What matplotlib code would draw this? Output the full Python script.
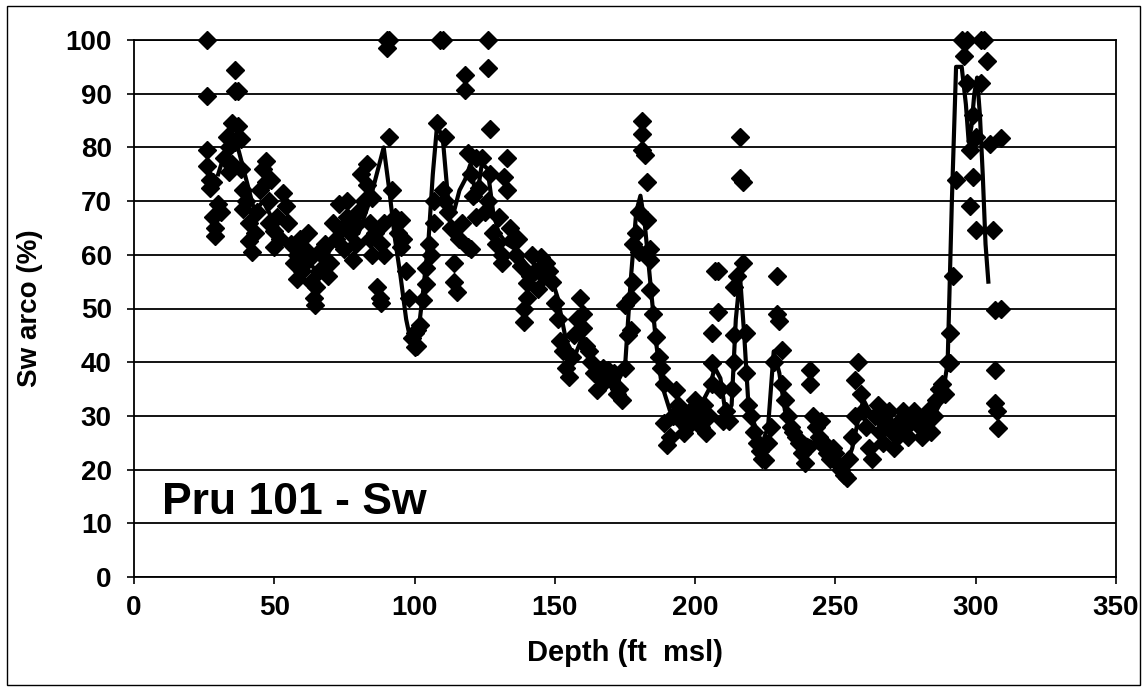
import matplotlib
matplotlib.use("Agg")
import matplotlib.pyplot as plt
from matplotlib.patches import Rectangle

# Sw arco vs depth (depth in ft msl, Sw in %)
depth_a = [26, 26, 26, 26, 27, 27, 28, 28, 29, 29, 30, 31, 32, 33, 34, 34, 35, 35, 36, 36, 36,
           37, 37, 38, 38, 39, 39, 40, 41, 41, 42, 43, 44, 45, 46, 47, 47, 48, 48, 49, 50, 50, 51, 52]
sw_a = [100, 89.5, 79.5, 76.5, 74, 72.5, 73.5, 67, 65, 63.5, 69.5, 68, 78, 82, 80, 75.5, 84.5, 77, 94.5, 90.5, 81,
        90.5, 84, 81.5, 76, 72, 68.5, 70, 66, 62.5, 60.5, 64, 68, 72, 76, 77.5, 73.5, 70, 66, 74, 64.5, 61.5, 67, 63]

depth_b = [53, 54, 55, 56, 57, 58, 59, 60, 61, 62, 63, 64, 64.5, 65, 66, 67, 68, 69, 70, 71, 72,
           73, 74, 75, 76, 77, 78, 79, 80, 81, 82, 83, 83, 84, 84, 85, 85, 76, 79, 62, 58, 66]
sw_b = [71.5, 69, 66, 62, 58.5, 60, 63, 57, 61, 59, 55, 52, 50.7, 54, 57, 60, 62, 56, 58.5, 66, 63,
        69.5, 65, 61, 67, 64, 59, 62, 68, 75, 70, 77, 73, 66, 63, 70.5, 60, 70, 65.5, 64, 55.5, 60.5]

depth_c = [86, 86.5, 87.5, 88, 88, 89, 89, 90, 90, 91, 91, 92, 93, 94, 95, 95, 96, 97, 98, 99,
           100, 100, 101, 101, 102, 103, 104, 104, 105, 106, 107, 107, 108, 109, 110, 111, 110, 111,
           112, 113, 114, 114, 115, 116, 117, 118, 118, 119, 119, 120, 120, 121, 122, 122, 123, 124,
           125, 126, 126, 126, 127, 127, 128, 129, 130]
sw_c = [64, 54, 52, 51, 62, 60, 66, 100, 98.5, 100, 82, 72, 67, 64, 66.5, 61.5, 63, 57, 52, 44.5,
        42.8, 45.5, 43, 46, 47, 51.6, 54.6, 57.6, 62, 60, 70, 66, 84.5, 100, 100, 82, 72, 70,
        68, 65, 58.5, 55, 53, 63, 66, 93.5, 90.7, 79, 61.5, 61, 75, 71, 78, 67, 72.5, 78,
        68, 100, 94.8, 70, 83.4, 75, 64, 62, 67]

depth_d = [131, 131, 132, 133, 133, 134, 135, 136, 137, 138, 139, 139, 140, 140, 141, 142, 143, 144,
           145, 146, 147, 148, 149, 150, 151, 152, 153, 154, 155, 156, 157, 158, 159, 160, 160, 161,
           162, 163, 164, 165, 166, 167, 168, 169, 170, 171, 172, 173, 174, 175]
sw_d = [60, 58.5, 74.5, 78, 72, 65, 63, 60, 63, 58, 50, 47.5, 54.7, 52, 56, 60, 57, 53.6,
        59.6, 56, 58.5, 57, 55, 51, 48, 44, 42, 39, 37.3, 41, 45, 48, 52, 46.4, 49, 43,
        42, 40, 38, 34.8, 37, 39, 36.5, 38.5, 36.7, 38, 34, 35, 33, 39]

depth_e = [175, 176, 177, 177, 178, 178, 179, 180, 180, 181, 181, 181, 182, 183, 183, 184, 184, 184,
           185, 186, 187, 188, 189, 189, 190, 191, 192, 193, 194, 195, 196, 197, 198, 199, 200, 201,
           202, 203, 204, 205, 206, 206, 206, 207, 208, 208, 209, 210, 211, 212, 213, 214, 214, 214,
           215, 216, 216, 217, 217, 218, 218, 219, 220, 221, 222, 223, 224, 225]
sw_e = [50.6, 45, 52, 46, 55, 62, 64, 60.6, 68, 85, 82.5, 79.5, 78.5, 73.6, 66.5, 61, 59, 53.4,
        49, 44.7, 41, 39, 36, 28.7, 24.5, 26, 30, 34.8, 32, 29, 26.8, 28, 31, 29, 33, 30,
        28, 32, 26.8, 30, 36, 39.8, 45.4, 57, 49.4, 57, 35, 29, 31, 29, 35, 40, 45, 54,
        56, 82, 74.3, 73.5, 58.4, 45.4, 38, 32, 30, 27, 25, 23.5, 22, 21.8]

depth_f = [226, 227, 228, 229, 229, 230, 231, 231, 232, 233, 234, 235, 236, 237, 238, 239, 240, 241,
           241, 242, 243, 244, 245, 246, 247, 248, 249, 250, 251, 252, 253, 254, 255, 256, 257, 257,
           258, 259, 260, 261, 262, 263, 264, 265, 266, 267, 268, 269, 270, 271, 272, 273, 274, 275,
           276, 277, 278, 279, 280, 281, 282, 283, 284, 285, 286, 287, 288, 289, 290]
sw_f = [25, 28, 40, 56, 49, 47.6, 42.3, 36, 33, 30, 28, 27, 26, 25, 23, 21.2, 24, 38.5,
        36, 30, 28, 26, 29, 25, 23, 22, 24, 23, 21, 20, 19, 18.5, 22, 26, 30, 36.7,
        40, 34, 31, 28, 24, 22, 30, 32, 27, 25, 29, 31, 27, 24, 26, 29, 31, 28,
        26, 29, 31, 30, 28, 26, 29, 31, 27, 30, 33, 35, 36, 34, 40]

depth_g = [291, 291, 292, 293, 295, 296, 297, 297, 298, 298, 299, 300, 302, 302, 303, 304, 305, 306,
           307, 307, 307, 307.5, 308, 309, 309, 300, 299]
sw_g = [45.4, 39.8, 56, 74, 100, 97, 100, 92, 79.5, 69, 74.5, 64.6, 100, 92, 100, 96, 80.6, 64.6,
        49.7, 38.5, 32.4, 31, 27.7, 81.7, 50, 82, 86]

# moving-average curve
line_depth = [30, 33, 35, 37, 40, 43, 46, 50, 55, 60, 65, 70, 75, 80, 84, 87, 89, 91, 93, 95,
              97, 99, 101, 103, 105, 106.5, 108, 110, 112, 114, 116, 118, 120, 122, 124, 126, 128, 130,
              133, 136, 140, 144, 148, 151, 154, 157, 160, 163, 166, 170, 173, 175, 177, 179, 180.5,
              182, 184, 186, 188, 191, 195, 199, 202, 205, 207, 209, 211, 213, 214.5, 216, 217.5, 219,
              222, 224, 226, 228, 230, 232, 235, 238, 242, 246, 250, 254, 256, 258, 260, 263, 266,
              270, 274, 278, 282, 285, 288, 290, 291.5, 293, 295, 296.5, 297.5, 298.5, 299.5, 300.5,
              301.5, 302.5, 303.5, 304.5]
line_sw = [75, 80, 83, 80, 74, 68, 70, 66, 62, 60, 57, 61, 64, 64, 70, 76, 80, 72, 63, 56,
           48, 43, 44, 53, 63, 75, 84, 82, 70, 68, 72, 74, 77, 70, 77, 76, 68, 64,
           62, 61, 58, 56, 57, 52, 44, 41, 45, 40, 38, 37, 37, 39, 55, 68, 71,
           66, 55, 44, 36, 31, 31, 30, 32, 35, 39, 37, 30, 32, 48, 56, 45, 32,
           27, 25, 28, 42, 38, 31, 28, 26, 25, 23, 22, 21, 24, 29, 33, 30, 28,
           27, 27, 28, 29, 30, 33, 40, 70, 95, 95, 88, 81, 84, 90, 93,
           86, 75, 62, 55]

depth = depth_a + depth_b + depth_c + depth_d + depth_e + depth_f + depth_g
sw = sw_a + sw_b + sw_c + sw_d + sw_e + sw_f + sw_g

plt.rcParams['font.family'] = ['Liberation Sans', 'DejaVu Sans']
plt.rcParams['font.weight'] = 'bold'

W, H = 1148, 692
fig = plt.figure(figsize=(W / 100, H / 100), dpi=100)
ax = fig.add_axes([134 / W, 1 - 577 / H, (1116 - 134) / W, (577 - 40) / H])

ax.plot(depth, sw, 'D', color='black', markersize=9.5, linestyle='none', clip_on=False, zorder=3)
ax.plot(line_depth, line_sw, color='black', lw=3, zorder=4)

ax.set_xlim(0, 350)
ax.set_ylim(0, 100)
ax.set_xticks(range(0, 351, 50))
ax.set_yticks(range(0, 101, 10))
ax.grid(axis='y', color='black', lw=1.3)
ax.set_axisbelow(True)
for s in ax.spines.values():
    s.set_linewidth(1.3)
ax.tick_params(axis='both', direction='out', length=5, width=1.2, labelsize=20)
ax.tick_params(axis='y', pad=11)
ax.tick_params(axis='x', pad=8)

ax.set_xlabel('Depth (ft  msl)', fontsize=21, fontweight='bold')
ax.set_ylabel('Sw arco (%)', fontsize=20, fontweight='bold')
ax.yaxis.set_label_coords(-0.093, 0.5)
ax.xaxis.set_label_coords(0.5, -0.115)

ax.text(10, 11.8, 'Pru 101 - Sw', fontsize=32, fontweight='bold', va='baseline', zorder=5)

fig.patches.append(Rectangle((7 / W, 7 / H), (1140 - 7) / W, (686 - 7) / H,
                             transform=fig.transFigure, fill=False, lw=1, edgecolor='black'))

fig.savefig('out.png', dpi=100)
